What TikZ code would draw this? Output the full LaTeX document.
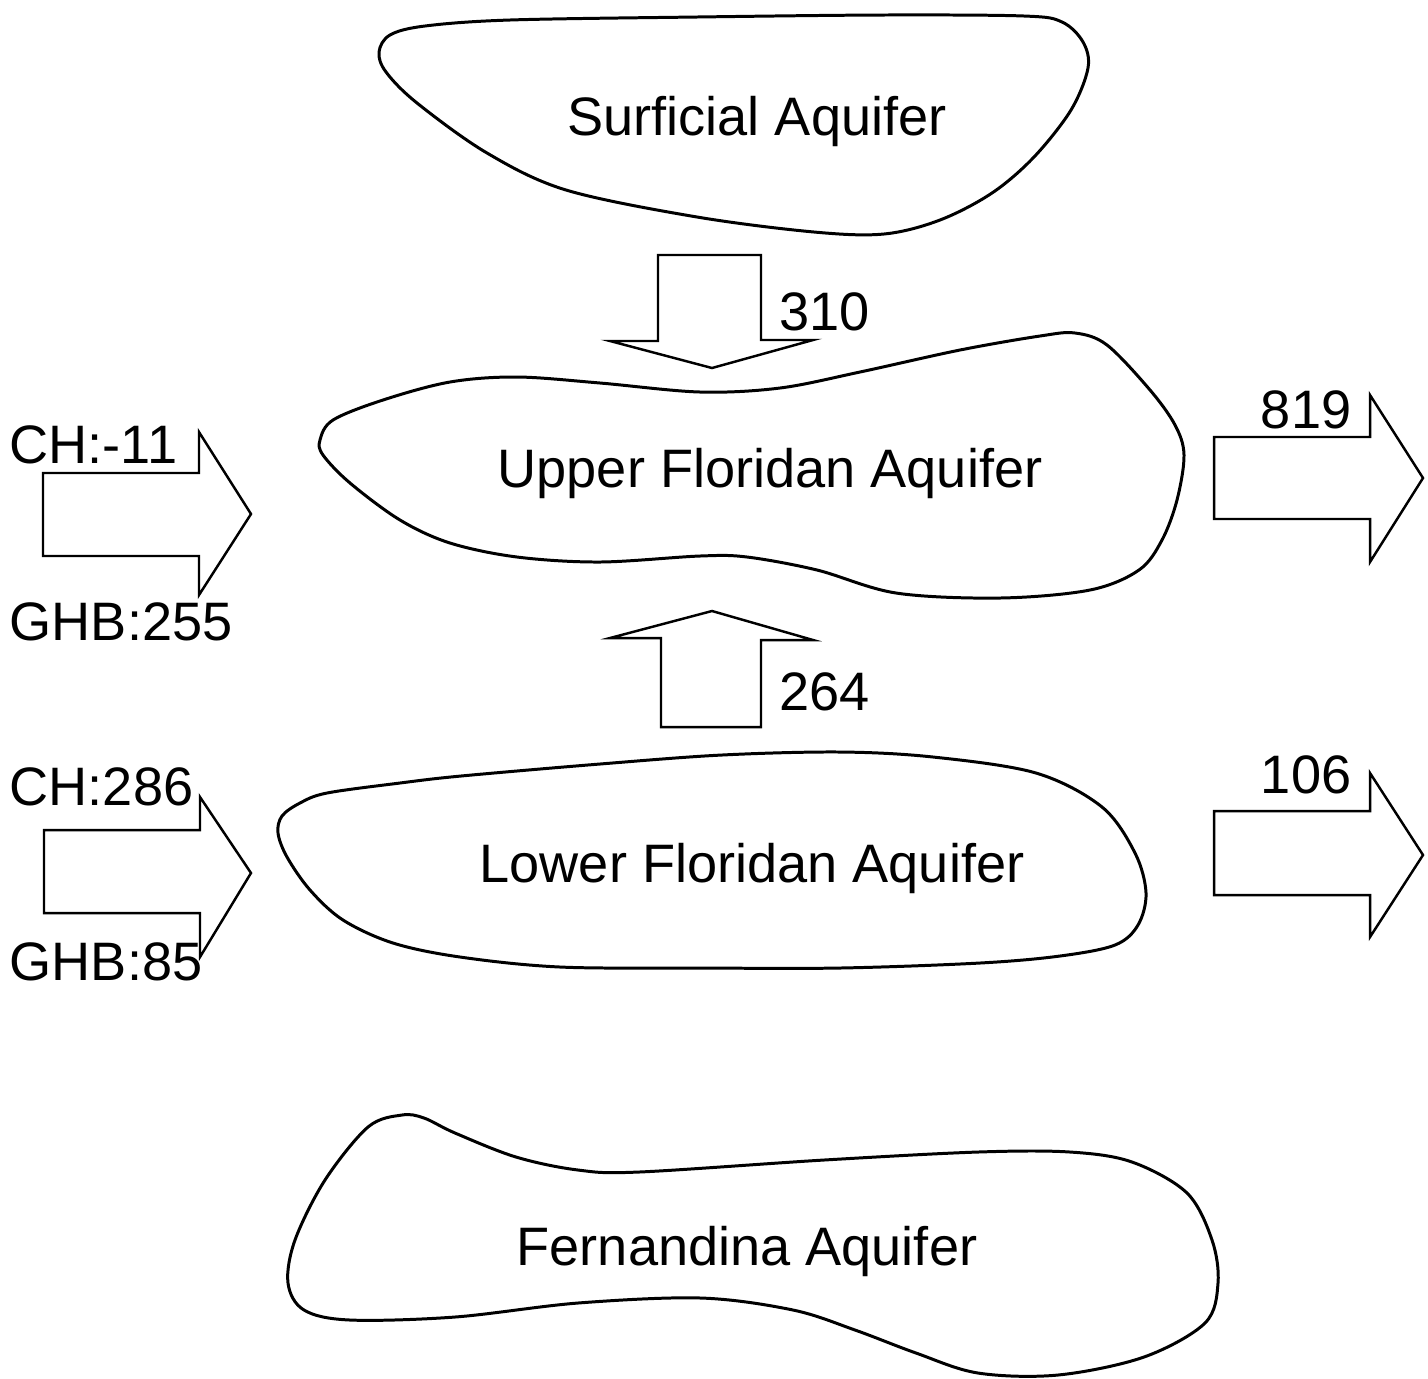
\documentclass[tikz,border=0pt]{standalone}
\usepackage{fontspec}
\setmainfont{Liberation Sans}
\begin{document}
\begin{tikzpicture}[x=0.01cm,y=-0.01cm,
  blob/.style={line width=0.85pt, line join=round},
  barrow/.style={line width=0.7pt, line join=miter},
  lbl/.style={inner sep=0pt, font=\fontsize{15.4}{18}\selectfont},
]
\useasboundingbox (0,0) rectangle (1428,1378);

% Surficial Aquifer
\draw[blob] plot[smooth cycle, tension=0.55] coordinates {
 (379,52) (390,35) (425,26) (510,20) (697,17) (884,15) (1024,16) (1062,22)
 (1083,42) (1088,68) (1071,110) (1034,157) (992,193) (940,220) (884,234)
 (814,232) (697,217) (566,190) (487,153) (417,103) (386,72)};
\node[lbl, anchor=base] (surf) at (757,135) {Surficial Aquifer};

% Upper Floridan Aquifer
\draw[blob] plot[smooth cycle, tension=0.55] coordinates {
 (320,440) (333,420) (383,400) (450,382) (517,377) (600,383) (700,392)
 (780,388) (860,372) (960,350) (1040,336) (1075,333) (1107,345) (1150,390)
 (1175,425) (1184,455) (1177,500) (1162,540) (1139,570) (1090,590) (1000,598)
 (896,593) (817,570) (747,557) (700,556) (600,562) (517,557) (450,543)
 (400,520) (350,483) (323,455)};
\node[lbl, anchor=base] (ufa) at (770,487) {Upper Floridan Aquifer};

% Lower Floridan Aquifer
\draw[blob] plot[smooth cycle, tension=0.55] coordinates {
 (278,833) (282,816) (300,803) (327,793) (400,783) (461,776) (600,764)
 (722,755) (840,752) (933,757) (1036,773) (1102,807) (1135,853) (1146,893)
 (1138,925) (1115,945) (1060,956) (980,963) (840,968) (700,968) (560,967)
 (460,957) (393,943) (343,920) (310,890) (287,857)};
\node[lbl, anchor=base] (lfa) at (752,882) {Lower Floridan Aquifer};

% Fernandina Aquifer
\draw[blob] plot[smooth cycle, tension=0.55] coordinates {
 (402,1115) (424,1118) (455,1133) (516,1157) (578,1170) (639,1172) (824,1160)
 (978,1152) (1070,1152) (1132,1162) (1187,1193) (1212,1240) (1218,1283)
 (1205,1323) (1144,1357) (1058,1375) (978,1373) (916,1353) (855,1330)
 (793,1310) (701,1298) (578,1303) (455,1317) (350,1320) (304,1310)
 (288,1283) (295,1240) (325,1180) (368,1127)};
\node[lbl, anchor=base] (fa) at (747,1265) {Fernandina Aquifer};

% Block arrows
\draw[barrow] (658,255) -- (761,255) -- (761,340) -- (813,340) -- (712,368)
  -- (610,341) -- (658,341) -- cycle;
\node[lbl, anchor=base west] (q310) at (779,330) {310};

\draw[barrow] (661,727) -- (761,727) -- (761,640) -- (813,640) -- (712,611)
  -- (610,638) -- (661,638) -- cycle;
\node[lbl, anchor=base west] (q264) at (779,710) {264};

\draw[barrow] (43,473) -- (199,473) -- (199,432) -- (251,514) -- (199,595)
  -- (199,556) -- (43,556) -- cycle;
\node[lbl, anchor=base west] (ch1) at (9,463) {CH:-11};
\node[lbl, anchor=base west] (ghb1) at (9,640) {GHB:255};

\draw[barrow] (44,830) -- (200,830) -- (200,797) -- (251,873) -- (200,957)
  -- (200,913) -- (44,913) -- cycle;
\node[lbl, anchor=base west] (ch2) at (9,805) {CH:286};
\node[lbl, anchor=base west] (ghb2) at (9,980) {GHB:85};

\draw[barrow] (1214,437) -- (1370,437) -- (1370,395) -- (1423,478) -- (1370,562)
  -- (1370,519) -- (1214,519) -- cycle;
\node[lbl, anchor=base east] (q819) at (1352,428) {819};

\draw[barrow] (1214,811) -- (1370,811) -- (1370,773) -- (1423,855) -- (1370,937)
  -- (1370,895) -- (1214,895) -- cycle;
\node[lbl, anchor=base east] (q106) at (1352,793) {106};
\end{tikzpicture}
\end{document}
